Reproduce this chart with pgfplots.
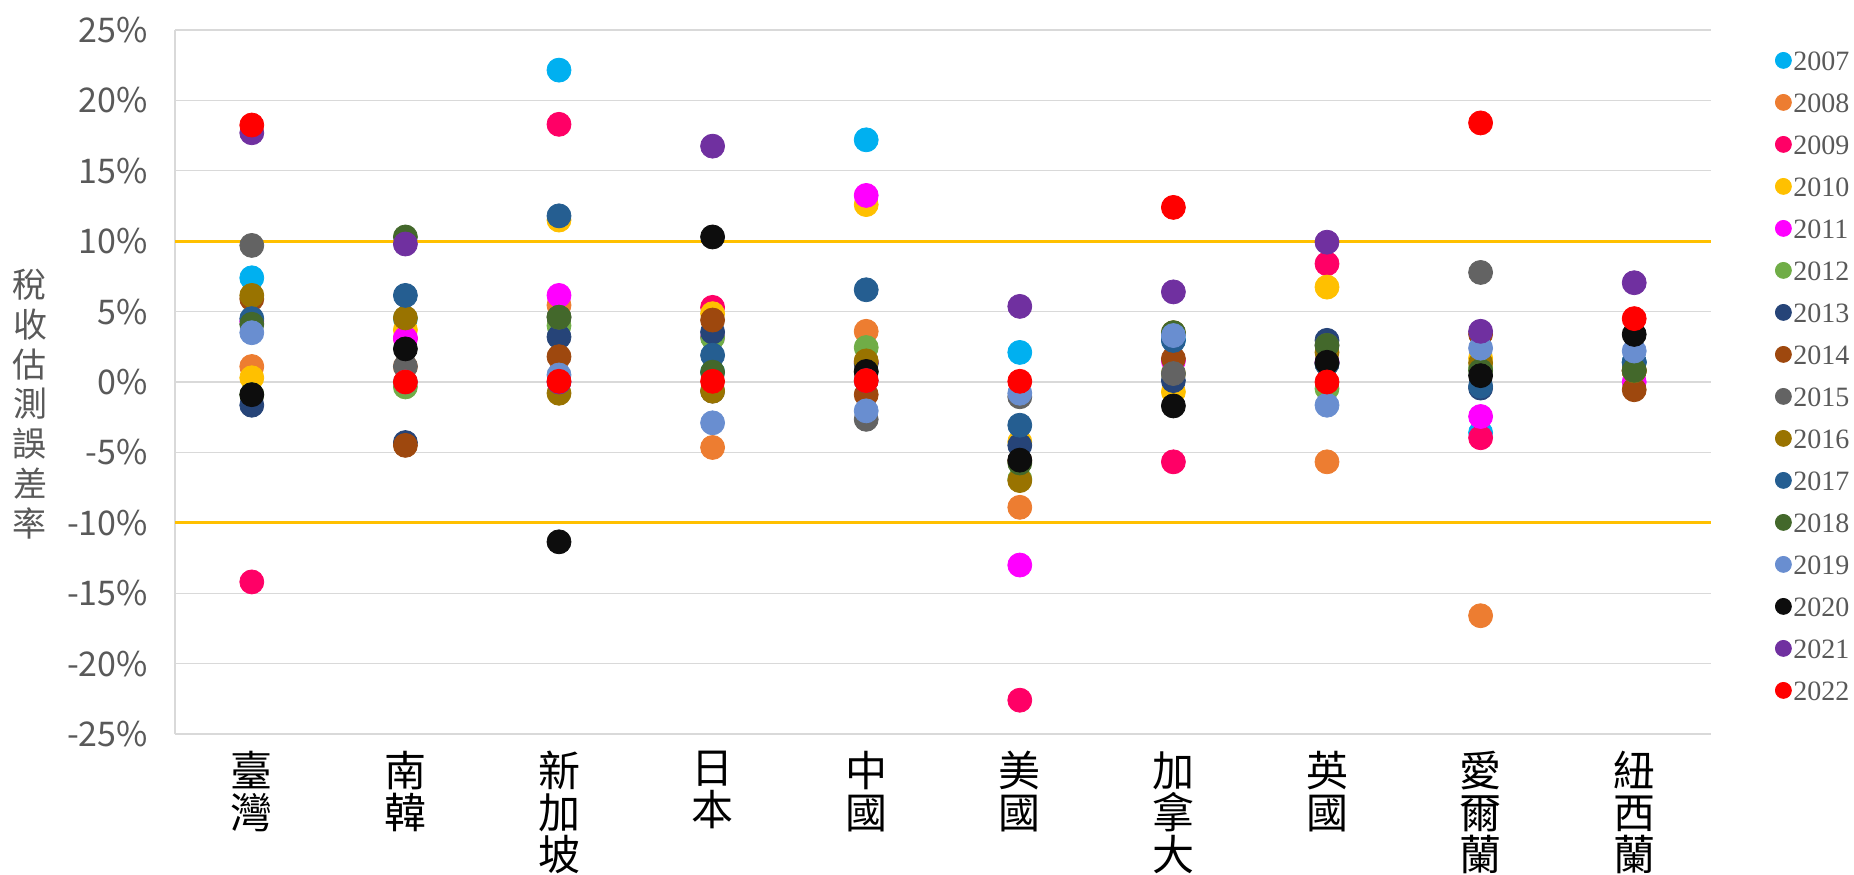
\documentclass[border=0pt]{standalone}
\usepackage{pgfplots}
\pgfplotsset{compat=1.18}
\usepackage{pgfplotstable}
\usepackage{fontspec}
\setmainfont{Noto Sans CJK TC}
\newfontfamily\legfont{Liberation Serif}
\definecolor{c07}{HTML}{00B0F0}
\definecolor{c08}{HTML}{ED7D31}
\definecolor{c09}{HTML}{FF0066}
\definecolor{c10}{HTML}{FFC000}
\definecolor{c11}{HTML}{FF00FF}
\definecolor{c12}{HTML}{70AD47}
\definecolor{c13}{HTML}{264478}
\definecolor{c14}{HTML}{9E480E}
\definecolor{c15}{HTML}{636363}
\definecolor{c16}{HTML}{997300}
\definecolor{c17}{HTML}{255E91}
\definecolor{c18}{HTML}{43682B}
\definecolor{c19}{HTML}{698ED0}
\definecolor{c20}{HTML}{0D0D0D}
\definecolor{c21}{HTML}{7030A0}
\definecolor{c22}{HTML}{FF0000}
\definecolor{gridgray}{HTML}{D9D9D9}
\definecolor{textgray}{HTML}{595959}
\definecolor{limitline}{HTML}{FFC000}

\pgfplotstableread{
x y07 y08 y09 y10 y11 y12 y13 y14 y15 y16 y17 y18 y19 y20 y21 y22
0 7.4 1.1 -14.2 0.3 4.3 -0.9 -1.65 5.9 9.7 6.15 4.5 4.1 3.5 -0.9 17.7 18.25
1 4.5 1.1 3.1 3.7 3.1 -0.35 -4.3 -4.5 1.1 4.55 6.15 10.3 0.0 2.35 9.8 0.0
2 22.15 5.45 18.3 11.5 6.15 4.0 3.2 1.8 4.6 -0.8 11.8 4.6 0.5 -11.35 0.0 0.05
3 0.7 -4.65 5.3 4.85 3.2 3.15 3.55 4.4 -0.65 -0.65 1.9 0.7 -2.9 10.3 16.75 0.05
4 17.2 3.6 1.4 12.6 13.25 2.45 1.3 -0.9 -2.65 1.5 6.55 0.7 -2.05 0.75 0.1 0.1
5 2.1 -8.9 -22.6 -4.25 -13.0 -6.9 -4.5 -5.6 -1.05 -7.0 -3.07 -5.75 -0.8 -5.55 5.37 0.05
6 3.0 0.6 -5.67 -0.7 1.5 0.6 0.1 1.65 0.6 3.5 2.95 3.5 3.3 -1.7 6.4 12.4
7 1.3 -5.67 8.4 6.74 1.4 -0.47 2.96 1.3 2.6 2.1 1.3 2.6 -1.65 1.4 9.93 0.0
8 -3.6 -16.6 -3.96 1.7 -2.45 1.0 -0.43 3.4 7.78 1.35 -0.3 0.8 2.4 0.45 3.6 18.4
9 1.4 0.8 0.8 0.8 0.0 0.8 1.4 -0.55 0.8 0.8 1.4 0.83 2.2 3.38 7.05 4.5
}\datatable

\begin{document}
\begin{tikzpicture}
\begin{axis}[
  scale only axis,
  width=768bp, height=352bp,
  at={(87.5bp,70.5bp)}, anchor=south west,
  xmin=-0.5, xmax=9.5, ymin=-25, ymax=25,
  axis lines=left,
  axis line style={-, draw=gridgray, line width=0.65bp},
  major tick length=0pt,
  ymajorgrids, grid style={draw=gridgray, line width=0.65bp},
  ytick={-25,-20,...,25},
  yticklabels={-25\%,-20\%,-15\%,-10\%,-5\%,0\%,5\%,10\%,15\%,20\%,25\%},
  yticklabel style={font=\fontsize{17bp}{17bp}\selectfont, text=textgray, anchor=east, xshift=-10bp},
  xtick={0,...,9},
  xticklabels={{臺\\灣},{南\\韓},{新\\加\\坡},{日\\本},{中\\國},{美\\國},{加\\拿\\大},{英\\國},{愛\\爾\\蘭},{紐\\西\\蘭}},
  xticklabel style={align=center, font=\fontsize{21bp}{21bp}\selectfont, anchor=north, inner sep=0pt, yshift=-8.5bp},
  ylabel={稅\\收\\估\\測\\誤\\差\\率},
  ylabel style={rotate=-90, align=center, font=\fontsize{17bp}{19.9bp}\selectfont, text=textgray, at={(rel axis cs:0,0.5)}, anchor=center, xshift=-72.5bp, yshift=-11bp},
  every axis plot/.append style={only marks, mark=*, mark size=6bp},
  legend image code/.code={\draw[#1, mark size=4bp] plot coordinates {(0bp,0bp)};},
  legend style={at={(rel axis cs:1,1)}, anchor=north west, xshift=32bp, yshift=-9bp,
    draw=none, fill=none, font=\legfont\fontsize{14bp}{14bp}\selectfont, text=textgray,
    row sep=9bp, inner sep=0pt, nodes={inner sep=1bp, text height=10bp, text depth=0bp}},
  legend cell align=left,
  clip=false,
]
\addplot[color=c07] table[x=x,y=y07]{\datatable};
\addplot[color=c08] table[x=x,y=y08]{\datatable};
\addplot[color=c09] table[x=x,y=y09]{\datatable};
\addplot[color=c10] table[x=x,y=y10]{\datatable};
\addplot[color=c11] table[x=x,y=y11]{\datatable};
\addplot[color=c12] table[x=x,y=y12]{\datatable};
\addplot[color=c13] table[x=x,y=y13]{\datatable};
\addplot[color=c14] table[x=x,y=y14]{\datatable};
\addplot[color=c15] table[x=x,y=y15]{\datatable};
\addplot[color=c16] table[x=x,y=y16]{\datatable};
\addplot[color=c17] table[x=x,y=y17]{\datatable};
\addplot[color=c18] table[x=x,y=y18]{\datatable};
\addplot[color=c19] table[x=x,y=y19]{\datatable};
\addplot[color=c20] table[x=x,y=y20]{\datatable};
\addplot[color=c21] table[x=x,y=y21]{\datatable};
\addplot[color=c22] table[x=x,y=y22]{\datatable};
\legend{2007,2008,2009,2010,2011,2012,2013,2014,2015,2016,2017,2018,2019,2020,2021,2022}
\addplot[forget plot, no marks, sharp plot, draw=limitline, line width=1.4bp] coordinates {(-0.5,10) (9.5,10)};
\addplot[forget plot, no marks, sharp plot, draw=limitline, line width=1.4bp] coordinates {(-0.5,-10) (9.5,-10)};
\end{axis}
\pgfresetboundingbox
\useasboundingbox (0,0) rectangle (927bp,437.5bp);
\end{tikzpicture}
\end{document}
